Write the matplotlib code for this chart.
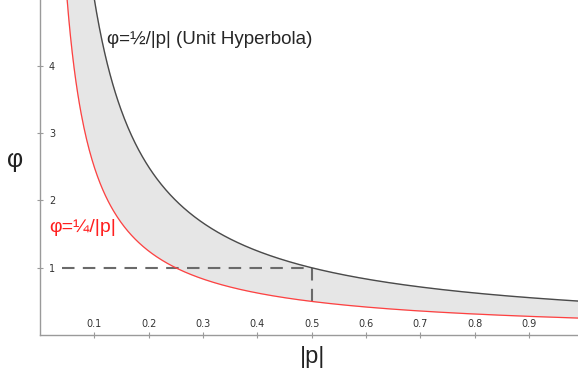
"""
Unit hyperbola band: phi = 1/2|p| (upper) and phi = 1/4|p| (lower).
"""
import numpy as np
import matplotlib
matplotlib.use('Agg')
import matplotlib.pyplot as plt

# curve constants
upper_k = 0.5
lower_k = 0.25

# axis ticks
x_ticks = [0.1, 0.2, 0.3, 0.4, 0.5, 0.6, 0.7, 0.8, 0.9]
y_ticks = [1, 2, 3, 4]

# guide lines (dashed) at p = 0.5, phi = 1
guide_p = 0.5
guide_phi = 1.0
guide_start = 0.04

p = np.linspace(0.01, 1.0, 600)
phi_upper = upper_k / p
phi_lower = lower_k / p

fig = plt.figure(figsize=(5.78, 3.79), dpi=100)
ax = fig.add_axes([0.069, 0.116, 0.931, 0.884])

ax.fill_between(p, phi_lower, phi_upper, color='#e6e6e6', zorder=1)
ax.plot(p, phi_upper, color='#4a4a4a', lw=1.0, zorder=3)
ax.plot(p, phi_lower, color='#ff4040', lw=0.9, zorder=3)

# dashed guides
ax.plot([guide_start, guide_p], [guide_phi, guide_phi], color='#6a6a6a', lw=1.5,
        dashes=(6, 4), zorder=2)
ax.plot([guide_p, guide_p], [guide_phi, lower_k / guide_p], color='#6a6a6a', lw=1.5,
        dashes=(6, 4), zorder=2)

ax.set_xlim(0, 0.99)
ax.set_ylim(0, 4.98)

for side in ['top', 'right']:
    ax.spines[side].set_visible(False)
for side in ['left', 'bottom']:
    ax.spines[side].set_color('#9a9a9a')
    ax.spines[side].set_linewidth(1.0)

ax.set_xticks(x_ticks)
ax.set_xticklabels([f'{t:g}' for t in x_ticks])
ax.set_yticks(y_ticks)
ax.set_yticklabels([str(t) for t in y_ticks])
ax.tick_params(axis='x', direction='inout', length=5, width=0.8, color='#9a9a9a',
               labelsize=7, labelcolor='#333333', pad=-7)
ax.tick_params(axis='y', direction='inout', length=5, width=0.8, color='#9a9a9a',
               labelsize=7, labelcolor='#333333', pad=-9)
for lab in ax.get_yticklabels():
    lab.set_horizontalalignment('left')
for lab in ax.get_xticklabels():
    lab.set_verticalalignment('bottom')

ax.text(0.123, 4.4, 'φ=½/|p| (Unit Hyperbola)', fontsize=13.5, color='#262626',
        family='Liberation Sans', va='center', ha='left')
ax.text(0.017, 1.6, 'φ=¼/|p|', fontsize=14, color='#ff2020',
        family='Liberation Sans', va='center', ha='left')

fig.text(0.026, 0.578, 'φ', fontsize=18, color='#222222', family='Liberation Sans',
         ha='center', va='center')
fig.text(0.541, 0.058, '|p|', fontsize=17, color='#222222', family='Liberation Sans',
         ha='center', va='center')

fig.savefig('out.png', dpi=100)
